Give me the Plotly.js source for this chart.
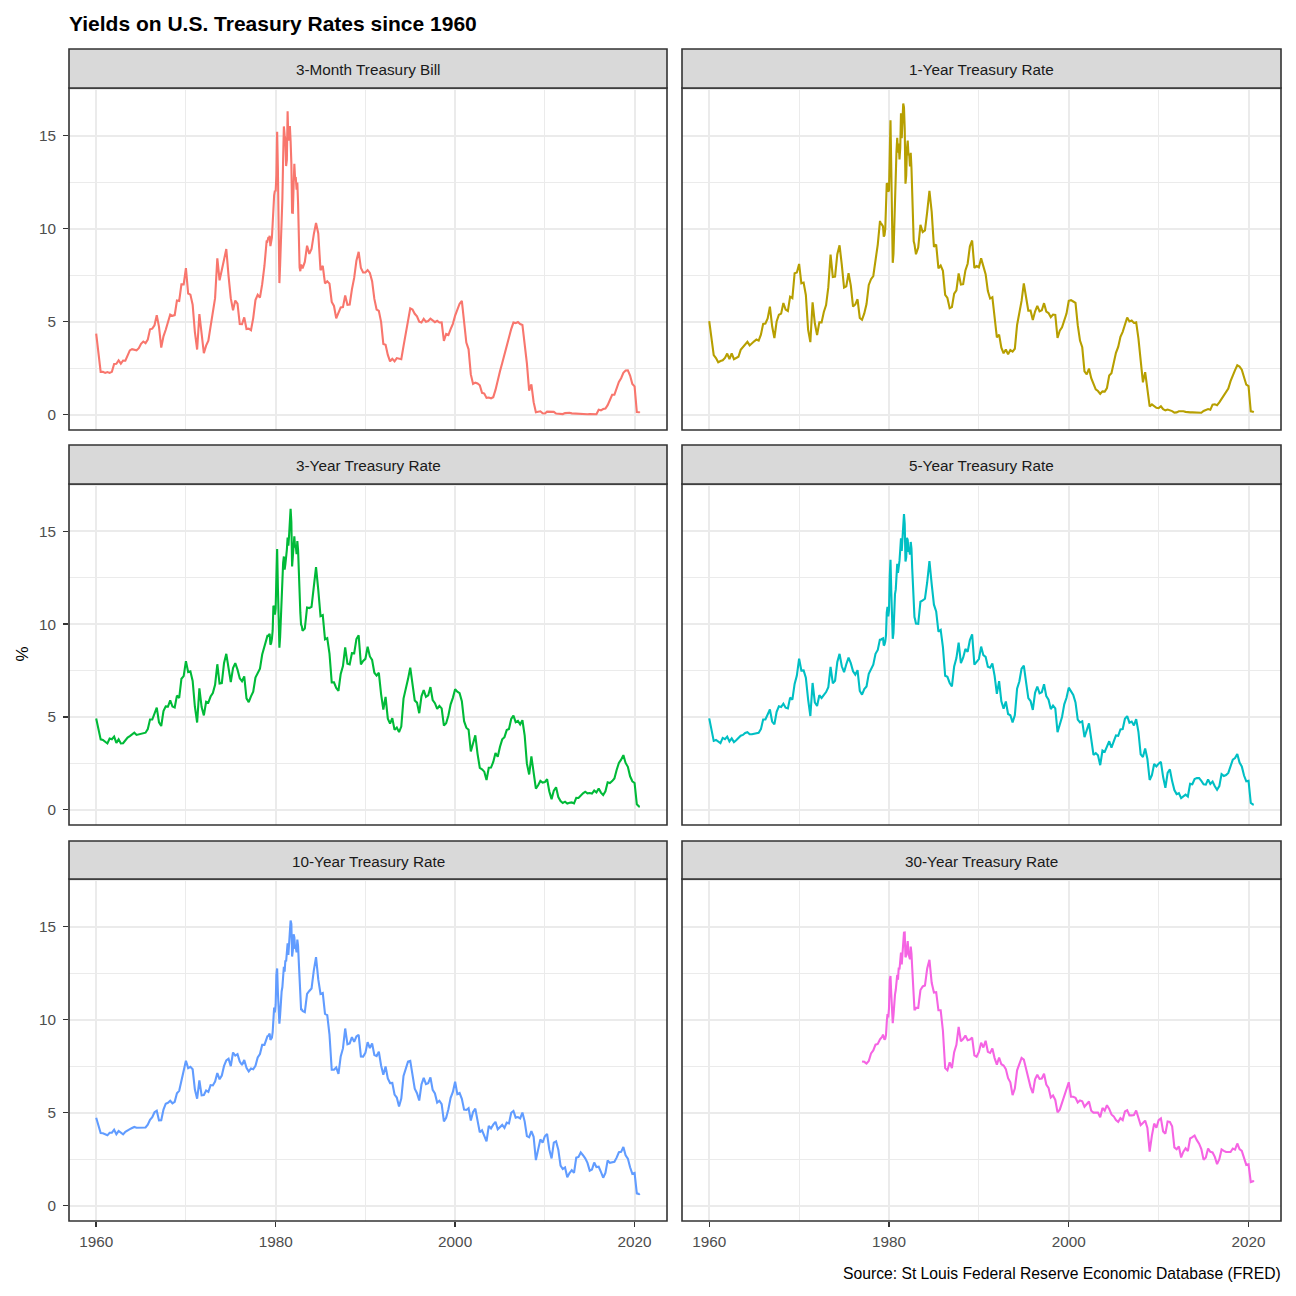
<!DOCTYPE html>
<html>
<head>
<meta charset="utf-8">
<script src="https://cdn.plot.ly/plotly-3.0.1.min.js"></script>
<style>
  html, body { margin: 0; padding: 0; background: #ffffff; }
  #chart { width: 1296px; height: 1296px; }
</style>
</head>
<body>
<div id="chart"></div>
<script>
// ---------------- DATA ----------------
// Sampling grid: quarterly (Jan, Apr, Jul, Oct) except monthly 1979-1982; last point Aug 2020.
const dates = [];
for (let y = 1960; y <= 2020; y++) {
  for (let m = 1; m <= 12; m++) {
    if (y === 2020 && m > 8) break;
    const monthly = (y >= 1979 && y <= 1982);
    if (monthly || (m % 3) === 1 || (y === 2020 && m === 8)) dates.push(y + (m - 1) / 12);
  }
}

const seriesNames = ["3-Month Treasury Bill", "1-Year Treasury Rate", "3-Year Treasury Rate",
                     "5-Year Treasury Rate", "10-Year Treasury Rate", "30-Year Treasury Rate"];
const seriesColors = ["#F8766D", "#B79F00", "#00BA38", "#00BFC4", "#619CFF", "#F564E3"];

const rate3m = [
  4.35, 3.23, 2.30, 2.30,
  2.24, 2.29, 2.24, 2.30,
  2.72, 2.73, 2.92, 2.74,
  2.91, 2.90, 3.18, 3.45,
  3.52, 3.47, 3.46, 3.57,
  3.81, 3.93, 3.84, 4.03,
  4.59, 4.62, 4.80, 5.35,
  4.72, 3.60, 4.21, 4.56,
  5.00, 5.38, 5.31, 5.35,
  6.13, 6.11, 7.00, 7.00,
  7.87, 6.51, 6.45, 5.91,
  4.44, 3.50, 5.40, 4.46,
  3.30, 3.71, 3.98, 4.74,
  5.41, 6.26, 8.40, 7.22,
  7.77, 8.33, 8.90, 7.46,
  6.26, 5.61, 6.13, 5.96,
  4.87, 4.86, 5.23, 4.60,
  4.62, 4.54, 5.19, 6.16,
  6.44, 6.29, 7.01, 7.99,
  9.35, 9.32, 9.48, 9.46, 9.61, 9.06, 9.24, 9.52, 10.26, 11.70, 11.79, 12.04,
  12.00, 12.86, 15.20, 13.20, 8.58, 7.07, 8.06, 9.13, 10.27, 11.62, 13.73, 15.49,
  15.02, 14.79, 13.36, 13.69, 16.30, 14.73, 14.95, 15.51, 14.70, 13.54, 10.86, 10.85,
  12.28, 13.48, 12.68, 12.70, 12.09, 12.47, 11.35, 8.68, 7.92, 7.71, 8.07, 7.94,
  7.86, 8.21, 9.08, 8.64,
  8.90, 9.69, 10.30, 9.74,
  7.76, 8.00, 7.05, 7.17,
  7.04, 6.06, 5.84, 5.18,
  5.45, 5.76, 5.78, 6.40,
  5.90, 5.92, 6.73, 7.35,
  8.27, 8.75, 7.88, 7.64,
  7.64, 7.77, 7.62, 7.17,
  6.22, 5.65, 5.58, 4.99,
  3.80, 3.75, 3.21, 2.86,
  3.00, 2.87, 3.04, 3.02,
  2.98, 3.68, 4.33, 4.95,
  5.71, 5.65, 5.42, 5.28,
  5.00, 4.95, 5.15, 4.99,
  5.03, 5.16, 5.05, 4.97,
  5.04, 4.95, 4.96, 3.96,
  4.34, 4.28, 4.60, 4.88,
  5.32, 5.66, 5.96, 6.11,
  5.15, 3.87, 3.51, 2.16,
  1.65, 1.72, 1.68, 1.58,
  1.17, 1.13, 0.90, 0.92,
  0.88, 0.94, 1.33, 1.76,
  2.33, 2.78, 3.22, 3.71,
  4.24, 4.60, 4.95, 4.92,
  4.98, 4.87, 4.82, 3.90,
  2.75, 1.29, 1.63, 0.67,
  0.13, 0.16, 0.18, 0.07,
  0.06, 0.16, 0.16, 0.13,
  0.15, 0.06, 0.04, 0.02,
  0.03, 0.08, 0.10, 0.10,
  0.07, 0.06, 0.04, 0.05,
  0.04, 0.03, 0.03, 0.02,
  0.03, 0.02, 0.03, 0.02,
  0.26, 0.23, 0.30, 0.33,
  0.51, 0.80, 1.07, 1.07,
  1.41, 1.76, 1.96, 2.25,
  2.37, 2.38, 2.10, 1.65,
  1.52, 0.14, 0.13, 0.10
];

const rate1y = [
  5.03, 4.04, 3.20, 3.04,
  2.81, 2.88, 2.92, 3.05,
  3.28, 2.99, 3.29, 2.98,
  3.04, 3.11, 3.48, 3.64,
  3.79, 3.91, 3.72, 3.86,
  3.94, 4.04, 3.98, 4.30,
  4.88, 4.90, 5.17, 5.80,
  4.75, 4.11, 5.01, 5.37,
  5.43, 6.00, 5.65, 5.57,
  6.34, 6.26, 7.60, 7.64,
  8.10, 7.06, 7.10, 6.43,
  4.57, 3.90, 6.04, 4.91,
  4.28, 4.96, 4.96, 5.52,
  5.89, 6.85, 8.60, 7.40,
  7.42, 8.62, 9.10, 8.05,
  6.83, 6.90, 7.60, 6.95,
  5.81, 5.92, 6.20, 5.20,
  5.10, 5.44, 5.94, 6.97,
  7.28, 7.45, 8.39, 9.14,
  10.41, 10.24, 10.25, 10.12, 10.12, 9.57, 9.64, 9.98, 10.84, 12.44, 12.39, 11.98,
  12.06, 13.92, 15.82, 13.30, 9.39, 8.16, 8.65, 10.24, 11.52, 12.49, 14.15, 14.88,
  14.08, 14.57, 13.71, 14.32, 16.20, 14.86, 15.72, 16.72, 16.52, 15.38, 12.41, 12.85,
  14.32, 14.73, 13.95, 13.98, 13.34, 14.07, 13.24, 11.43, 10.85, 9.32, 9.16, 8.91,
  8.62, 8.98, 10.20, 9.81,
  9.90, 10.90, 12.03, 10.90,
  9.02, 9.14, 7.86, 8.01,
  7.73, 6.44, 6.27, 5.72,
  5.78, 6.50, 6.68, 7.59,
  6.99, 7.01, 7.75, 8.11,
  9.05, 9.36, 7.89, 7.99,
  7.92, 8.40, 7.94, 7.55,
  6.64, 6.24, 6.31, 5.33,
  4.15, 4.30, 3.60, 3.30,
  3.50, 3.24, 3.47, 3.39,
  3.54, 4.82, 5.48, 6.11,
  7.05, 6.27, 5.59, 5.59,
  5.09, 5.54, 5.85, 5.55,
  5.61, 5.99, 5.54, 5.46,
  5.24, 5.38, 5.36, 4.12,
  4.51, 4.69, 5.03, 5.43,
  6.12, 6.15, 6.08, 6.01,
  4.81, 3.98, 3.62, 2.33,
  2.16, 2.48, 1.96, 1.65,
  1.36, 1.27, 1.12, 1.25,
  1.24, 1.43, 2.10, 2.23,
  2.86, 3.32, 3.64, 4.18,
  4.45, 4.90, 5.22, 5.01,
  5.06, 4.93, 4.96, 4.10,
  2.71, 1.74, 2.28, 1.42,
  0.44, 0.55, 0.48, 0.37,
  0.35, 0.45, 0.29, 0.23,
  0.27, 0.25, 0.19, 0.11,
  0.12, 0.18, 0.19, 0.18,
  0.15, 0.12, 0.12, 0.12,
  0.12, 0.11, 0.11, 0.10,
  0.20, 0.23, 0.30, 0.26,
  0.54, 0.56, 0.51, 0.66,
  0.83, 1.04, 1.22, 1.40,
  1.80, 2.15, 2.39, 2.65,
  2.58, 2.42, 1.96, 1.61,
  1.53, 0.18, 0.15, 0.13
];

const rate3y = [
  4.92, 4.29, 3.79, 3.76,
  3.67, 3.57, 3.84, 3.80,
  3.94, 3.60, 3.79, 3.57,
  3.58, 3.74, 3.89, 3.97,
  4.07, 4.15, 4.03, 4.07,
  4.10, 4.15, 4.15, 4.34,
  4.86, 4.86, 5.22, 5.50,
  4.71, 4.51, 5.32, 5.57,
  5.56, 5.90, 5.56, 5.51,
  6.15, 6.02, 7.06, 7.20,
  8.01, 7.42, 7.46, 6.94,
  5.55, 4.70, 6.54, 5.53,
  5.08, 5.82, 5.77, 6.10,
  6.29, 6.73, 7.84, 6.80,
  6.82, 7.91, 8.40, 7.57,
  6.88, 7.63, 7.90, 7.55,
  7.08, 6.92, 7.18, 6.00,
  5.80, 6.11, 6.36, 7.12,
  7.36, 7.60, 8.36, 8.79,
  9.35, 9.37, 9.37, 9.41, 9.48, 8.89, 8.97, 9.21, 9.65, 10.99, 10.94, 10.52,
  10.85, 12.56, 14.05, 11.98, 9.53, 8.73, 9.32, 10.63, 11.57, 12.01, 13.31, 13.65,
  12.94, 13.24, 13.53, 14.02, 14.67, 14.23, 14.80, 15.85, 16.22, 15.50, 13.11, 13.66,
  14.64, 14.73, 14.13, 14.18, 13.77, 14.48, 14.00, 12.62, 12.03, 10.62, 9.98, 9.88,
  9.64, 9.76, 10.90, 10.87,
  10.93, 11.98, 13.08, 11.85,
  10.43, 10.49, 9.18, 9.25,
  8.41, 6.86, 6.86, 6.56,
  6.41, 7.32, 7.74, 8.75,
  7.87, 7.83, 8.44, 8.43,
  9.20, 9.40, 7.83, 8.02,
  8.13, 8.78, 8.26, 8.07,
  7.38, 7.23, 7.38, 6.23,
  5.40, 6.08, 4.91, 4.64,
  4.93, 4.30, 4.43, 4.18,
  4.48, 5.99, 6.48, 7.04,
  7.66, 6.68, 5.89, 5.77,
  5.20, 6.11, 6.45, 6.08,
  6.16, 6.61, 5.91, 5.74,
  5.43, 5.59, 5.46, 4.53,
  4.66, 5.08, 5.68, 6.03,
  6.49, 6.36, 6.28, 5.85,
  4.77, 4.42, 4.31, 3.14,
  3.56, 4.01, 3.01, 2.25,
  2.18, 2.05, 1.60, 2.26,
  2.27, 2.57, 3.05, 2.85,
  3.39, 3.79, 3.91, 4.29,
  4.35, 4.89, 5.07, 4.72,
  4.79, 4.60, 4.82, 4.01,
  2.48, 1.90, 2.87, 1.86,
  1.13, 1.32, 1.55, 1.46,
  1.49, 1.64, 0.98, 0.57,
  1.03, 1.21, 0.68, 0.47,
  0.36, 0.43, 0.33, 0.37,
  0.39, 0.34, 0.64, 0.63,
  0.78, 0.88, 0.97, 0.88,
  0.90, 0.87, 1.03, 0.93,
  1.14, 0.92, 0.79, 0.99,
  1.48, 1.44, 1.54, 1.68,
  2.14, 2.52, 2.70, 2.94,
  2.52, 2.31, 1.80, 1.53,
  1.44, 0.29, 0.17, 0.16
];

const rate5y = [
  4.92, 4.28, 3.71, 3.76,
  3.67, 3.59, 3.87, 3.80,
  3.94, 3.68, 3.84, 3.64,
  3.74, 3.85, 3.99, 4.03,
  4.14, 4.18, 4.07, 4.07,
  4.10, 4.15, 4.15, 4.34,
  4.86, 4.86, 5.17, 5.40,
  4.75, 4.60, 5.28, 5.57,
  5.53, 5.71, 5.50, 5.46,
  6.04, 5.93, 6.78, 7.23,
  8.14, 7.50, 7.51, 7.12,
  5.95, 5.05, 6.83, 5.78,
  5.59, 6.17, 6.02, 6.18,
  6.34, 6.60, 7.70, 6.81,
  6.95, 7.96, 8.40, 7.73,
  7.41, 7.84, 8.20, 7.90,
  7.46, 7.28, 7.52, 6.40,
  6.20, 6.50, 6.64, 7.32,
  7.61, 7.82, 8.40, 8.61,
  9.20, 9.13, 9.20, 9.25, 9.24, 8.85, 8.90, 9.06, 9.41, 10.63, 10.93, 10.42,
  10.74, 12.60, 13.47, 11.84, 9.95, 9.21, 9.53, 10.84, 11.62, 11.86, 12.83, 13.25,
  12.77, 13.41, 13.41, 13.99, 14.63, 13.95, 14.79, 15.56, 15.93, 15.41, 13.38, 13.60,
  14.65, 14.54, 13.98, 14.00, 13.75, 14.43, 14.07, 13.00, 12.25, 10.80, 10.38, 10.22,
  10.03, 10.02, 11.21, 11.28,
  11.37, 12.26, 13.40, 12.16,
  11.05, 10.69, 9.60, 9.69,
  8.76, 7.22, 7.16, 6.83,
  6.64, 7.72, 8.17, 9.00,
  7.90, 8.19, 8.66, 8.51,
  9.15, 9.45, 7.82, 7.97,
  8.12, 8.79, 8.33, 8.24,
  7.70, 7.65, 7.88, 7.21,
  6.24, 6.93, 5.84, 5.45,
  5.83, 5.16, 5.09, 4.71,
  5.09, 6.52, 6.91, 7.60,
  7.76, 6.88, 6.01, 5.86,
  5.38, 6.30, 6.64, 6.27,
  6.33, 6.76, 6.12, 5.93,
  5.42, 5.61, 5.46, 4.18,
  4.60, 5.00, 5.68, 6.03,
  6.58, 6.40, 6.18, 5.78,
  4.86, 4.70, 4.76, 3.91,
  4.34, 4.65, 3.81, 2.95,
  3.05, 2.93, 2.40, 3.19,
  3.12, 3.43, 3.69, 3.35,
  3.71, 4.00, 3.98, 4.33,
  4.35, 4.90, 5.04, 4.69,
  4.75, 4.54, 4.88, 4.20,
  2.98, 2.84, 3.30, 2.73,
  1.60, 1.86, 2.46, 2.33,
  2.48, 2.58, 1.76, 1.18,
  1.99, 2.17, 1.54, 1.06,
  0.84, 0.89, 0.62, 0.71,
  0.81, 0.71, 1.40, 1.37,
  1.65, 1.70, 1.70, 1.55,
  1.37, 1.35, 1.63, 1.39,
  1.52, 1.26, 1.07, 1.27,
  1.92, 1.82, 1.87, 1.98,
  2.38, 2.70, 2.78, 3.00,
  2.54, 2.33, 1.84, 1.53,
  1.56, 0.36, 0.28, 0.27
];

const rate10y = [
  4.72, 4.28, 3.90, 3.89,
  3.84, 3.78, 3.92, 3.92,
  4.08, 3.84, 4.01, 3.93,
  3.83, 3.97, 4.02, 4.11,
  4.17, 4.23, 4.19, 4.19,
  4.19, 4.20, 4.20, 4.35,
  4.61, 4.75, 5.02, 5.10,
  4.58, 4.59, 5.16, 5.48,
  5.53, 5.64, 5.50, 5.58,
  6.04, 6.17, 6.72, 7.10,
  7.79, 7.39, 7.46, 7.33,
  6.24, 5.75, 6.73, 5.93,
  5.95, 6.19, 6.11, 6.48,
  6.46, 6.67, 7.13, 6.79,
  6.99, 7.51, 7.81, 7.90,
  7.50, 8.23, 8.06, 8.14,
  7.74, 7.56, 7.83, 7.41,
  7.21, 7.37, 7.33, 7.52,
  7.96, 8.15, 8.64, 8.64,
  9.10, 9.10, 9.12, 9.18, 9.25, 8.91, 8.95, 9.03, 9.33, 10.30, 10.65, 10.39,
  10.80, 12.41, 12.75, 11.47, 10.18, 9.78, 10.25, 11.10, 11.51, 11.75, 12.68, 12.84,
  12.57, 13.19, 13.12, 13.68, 14.10, 13.47, 14.28, 14.94, 15.32, 15.15, 13.39, 13.72,
  14.59, 14.43, 13.86, 13.87, 13.62, 14.30, 13.95, 13.06, 12.34, 10.91, 10.55, 10.54,
  10.46, 10.40, 11.38, 11.54,
  11.67, 12.63, 13.36, 12.16,
  11.38, 11.43, 10.31, 10.24,
  9.19, 7.30, 7.30, 7.43,
  7.08, 8.02, 8.45, 9.52,
  8.67, 8.72, 9.06, 8.80,
  9.09, 9.18, 8.02, 8.01,
  8.21, 8.79, 8.47, 8.72,
  8.09, 8.04, 8.27, 7.53,
  7.03, 7.48, 6.84, 6.59,
  6.60, 5.97, 5.81, 5.33,
  5.75, 6.97, 7.30, 7.74,
  7.78, 7.06, 6.28, 6.04,
  5.65, 6.51, 6.87, 6.53,
  6.58, 6.89, 6.22, 6.03,
  5.54, 5.64, 5.46, 4.53,
  4.72, 5.18, 5.79, 6.11,
  6.66, 5.99, 6.05, 5.74,
  5.16, 5.14, 5.24, 4.57,
  5.04, 5.21, 4.65, 3.94,
  4.05, 3.70, 3.45, 4.29,
  4.15, 4.35, 4.50, 4.10,
  4.22, 4.34, 4.18, 4.46,
  4.42, 4.99, 5.09, 4.73,
  4.76, 4.69, 5.00, 4.53,
  3.74, 3.68, 4.01, 3.70,
  2.45, 2.93, 3.56, 3.39,
  3.73, 3.85, 3.01, 2.54,
  3.39, 3.46, 3.00, 2.15,
  1.97, 2.05, 1.53, 1.75,
  1.91, 1.76, 2.58, 2.62,
  2.86, 2.71, 2.54, 2.30,
  1.88, 1.94, 2.32, 2.07,
  2.09, 1.81, 1.50, 1.76,
  2.43, 2.30, 2.32, 2.36,
  2.58, 2.87, 2.89, 3.15,
  2.71, 2.53, 2.06, 1.71,
  1.76, 0.66, 0.62, 0.65
];

// 30-year series begins in 1977
const rate30y = [
  7.75, 7.73, 7.64, 7.77,
  8.18, 8.34, 8.65, 8.69,
  8.94, 8.97, 9.03, 9.08, 9.19, 8.92, 8.92, 8.97, 9.17, 9.85, 10.30, 10.12,
  10.60, 12.13, 12.34, 11.40, 10.36, 9.81, 10.24, 11.00, 11.34, 11.59, 12.37, 12.40,
  12.14, 12.80, 12.69, 13.20, 13.60, 12.96, 13.59, 14.17, 14.67, 14.68, 13.35, 13.45,
  14.22, 14.22, 13.53, 13.37, 13.24, 13.92, 13.55, 12.77, 12.07, 11.17, 10.54, 10.54,
  10.63, 10.63, 11.59, 11.78,
  11.83, 12.75, 13.21, 11.98,
  11.45, 11.47, 10.50, 10.50,
  9.40, 7.39, 7.27, 7.70,
  7.39, 8.25, 8.64, 9.61,
  8.83, 8.95, 9.14, 8.89,
  8.93, 9.03, 8.08, 8.00,
  8.26, 8.76, 8.50, 8.86,
  8.27, 8.21, 8.45, 7.93,
  7.58, 7.96, 7.60, 7.53,
  7.34, 6.85, 6.63, 5.94,
  6.29, 7.27, 7.58, 7.94,
  7.85, 7.36, 6.72, 6.37,
  6.05, 6.79, 7.03, 6.81,
  6.83, 7.09, 6.51, 6.33,
  5.81, 5.92, 5.68, 5.01,
  5.16, 5.55, 5.98, 6.26,
  6.63, 5.85, 5.85, 5.80,
  5.54, 5.65, 5.61, 5.32,
  5.45, 5.60, 5.10, 5.00,
  5.00, 5.00, 4.75, 5.25,
  5.10, 5.40, 5.20, 4.90,
  4.80, 4.60, 4.50, 4.70,
  4.60, 5.06, 5.13, 4.85,
  4.85, 4.87, 5.11, 4.77,
  4.33, 4.44, 4.57, 4.17,
  2.90, 3.76, 4.41, 4.19,
  4.60, 4.69, 3.99, 3.87,
  4.52, 4.50, 4.27, 3.13,
  3.03, 3.18, 2.59, 2.90,
  3.08, 2.93, 3.61, 3.68,
  3.77, 3.52, 3.33, 3.04,
  2.46, 2.59, 3.07, 2.89,
  2.86, 2.62, 2.23, 2.50,
  3.02, 2.94, 2.88, 2.88,
  2.88, 3.07, 3.01, 3.34,
  3.04, 2.94, 2.57, 2.19,
  2.22, 1.27, 1.31, 1.36
];

const xTickVals = [1960, 1980, 2000, 2020];
const xTickText = ["1960", "1980", "2000", "2020"];
const yTickVals = [0, 5, 10, 15];
const yTickText = ["0", "5", "10", "15"];

const chartTitle = "Yields on U.S. Treasury Rates since 1960";
const yLabel = "%";
const captionText = "Source: St Louis Federal Reserve Economic Database (FRED)";

// ---------------- LAYOUT GEOMETRY ----------------
const W = 1296, H = 1296;
const px = v => v / W;
const py = v => 1 - v / H;
const colPx = [[69, 667], [682, 1281]];
const rowPx = [[88, 430], [484, 825], [879, 1221]];
const stripPx = [[49, 88], [445, 484], [841, 879]];

const allY = [rate3m, rate1y, rate3y, rate5y, rate10y, rate30y];
const xMin = dates[0], xMax = dates[dates.length - 1];
const xPad = (xMax - xMin) * 0.05;
let yMinV = Infinity, yMaxV = -Infinity;
allY.forEach(a => a.forEach(v => { if (v != null) { yMinV = Math.min(yMinV, v); yMaxV = Math.max(yMaxV, v); } }));
yMinV = Math.min(yMinV, 0.01);
const yPad = (yMaxV - yMinV) * 0.05;
const xRange = [xMin - xPad, xMax + xPad];
const yRange = [yMinV - yPad, yMaxV + yPad];

const FONT = "Liberation Sans, Arial, Helvetica, sans-serif";
const traces = [];
const layout = {
  width: W, height: H,
  margin: { l: 0, r: 0, t: 0, b: 0 },
  paper_bgcolor: "#FFFFFF",
  plot_bgcolor: "#FFFFFF",
  showlegend: false,
  hovermode: false,
  font: { family: FONT, color: "#4D4D4D" },
  shapes: [],
  annotations: []
};

for (let i = 0; i < 6; i++) {
  const row = Math.floor(i / 2), col = i % 2;
  const sfx = i === 0 ? "" : String(i + 1);
  const yData = allY[i];
  const xData = dates.slice(dates.length - yData.length);
  traces.push({
    type: "scatter", mode: "lines",
    x: xData, y: yData,
    xaxis: "x" + sfx, yaxis: "y" + sfx,
    line: { color: seriesColors[i], width: 2.1 },
    connectgaps: false
  });
  const [c0, c1] = colPx[col];
  const [r0, r1] = rowPx[row];
  const [s0, s1] = stripPx[row];
  const isBottom = row === 2, isLeft = col === 0;
  layout["xaxis" + sfx] = {
    domain: [px(c0), px(c1)], anchor: "y" + sfx,
    range: xRange, fixedrange: true,
    tickmode: "array", tickvals: xTickVals, ticktext: xTickText,
    showgrid: true, gridcolor: "#EBEBEB", gridwidth: 2,
    minor: { tick0: 1960, dtick: 10, showgrid: true, gridcolor: "#EBEBEB", gridwidth: 1, ticks: "" },
    zeroline: false, showline: false,
    showticklabels: isBottom,
    ticks: isBottom ? "outside" : "", ticklen: 5, tickwidth: 1.4, tickcolor: "#333333",
    ticklabelstandoff: 2,
    tickfont: { family: FONT, size: 15.3, color: "#4D4D4D" }
  };
  layout["yaxis" + sfx] = {
    domain: [py(r1), py(r0)], anchor: "x" + sfx,
    range: yRange, fixedrange: true,
    tickmode: "array", tickvals: yTickVals, ticktext: yTickText,
    showgrid: true, gridcolor: "#EBEBEB", gridwidth: 2,
    minor: { tick0: 0, dtick: 2.5, showgrid: true, gridcolor: "#EBEBEB", gridwidth: 1, ticks: "" },
    zeroline: false, showline: false,
    showticklabels: isLeft,
    ticks: isLeft ? "outside" : "", ticklen: 5, tickwidth: 1.4, tickcolor: "#333333",
    ticklabelstandoff: 4,
    tickfont: { family: FONT, size: 15.3, color: "#4D4D4D" }
  };
  // panel border
  layout.shapes.push({
    type: "rect", xref: "paper", yref: "paper", layer: "above",
    x0: px(c0), x1: px(c1), y0: py(r1), y1: py(r0),
    line: { color: "#333333", width: 1.6 }, fillcolor: "rgba(0,0,0,0)"
  });
  // strip
  layout.shapes.push({
    type: "rect", xref: "paper", yref: "paper", layer: "above",
    x0: px(c0), x1: px(c1), y0: py(s1), y1: py(s0),
    line: { color: "#333333", width: 1.6 }, fillcolor: "#D9D9D9"
  });
  layout.annotations.push({
    xref: "paper", yref: "paper",
    x: px((c0 + c1) / 2), y: py((s0 + s1) / 2 + 1),
    xanchor: "center", yanchor: "middle", showarrow: false,
    text: seriesNames[i],
    font: { family: FONT, size: 15.3, color: "#1A1A1A" }
  });
}

layout.annotations.push({
  xref: "paper", yref: "paper", x: px(67), y: py(24),
  xanchor: "left", yanchor: "middle", showarrow: false,
  text: "<b>" + chartTitle + "</b>",
  font: { family: FONT, size: 21, color: "#000000" }
});
layout.annotations.push({
  xref: "paper", yref: "paper", x: px(22), y: py((88 + 1221) / 2),
  xanchor: "center", yanchor: "middle", showarrow: false, textangle: -90,
  text: yLabel,
  font: { family: FONT, size: 17, color: "#000000" }
});
layout.annotations.push({
  xref: "paper", yref: "paper", x: px(1283), y: py(1273),
  xanchor: "right", yanchor: "middle", showarrow: false,
  text: captionText,
  font: { family: FONT, size: 15.7, color: "#000000" }
});

Plotly.newPlot("chart", traces, layout, { displayModeBar: false, staticPlot: true });
</script>
</body>
</html>
